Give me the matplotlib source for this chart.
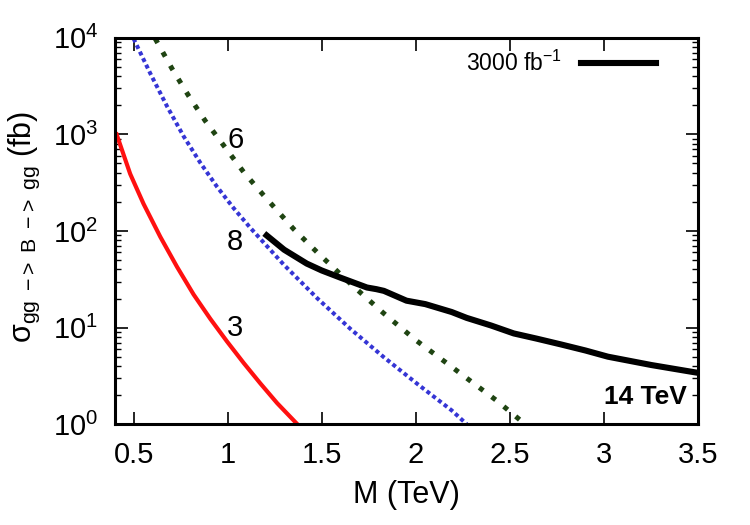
import numpy as np
import matplotlib
matplotlib.use("Agg")
import matplotlib.pyplot as plt

plt.rcParams['font.family'] = ['Liberation Sans', 'DejaVu Sans']
plt.rcParams['mathtext.fontset'] = 'custom'
plt.rcParams['mathtext.rm'] = 'Liberation Sans'
plt.rcParams['mathtext.it'] = 'Liberation Sans:italic'

# red, label 3
m3 = [0.41, 0.482, 0.553, 0.642, 0.731, 0.819, 0.908, 0.996, 1.085, 1.173, 1.263, 1.37]
s3 = [1000, 390, 191, 87, 42.5, 22, 12.3, 7.2, 4.3, 2.65, 1.65, 1.0]

# blue dotted, label 8
m8 = [0.5, 0.589, 0.678, 0.766, 0.855, 0.944, 1.032, 1.12, 1.298, 1.476, 1.652, 1.83, 2.01, 2.19, 2.27]
s8 = [9800, 4270, 1950, 955, 507, 286, 172, 108, 44.8, 20.1, 9.7, 4.93, 2.59, 1.39, 1.0]

# green dashed, label 6
m6 = [0.615, 0.704, 0.793, 0.881, 0.979, 1.085, 1.191, 1.35, 1.476, 1.652, 1.83, 2.0, 2.17, 2.29, 2.43, 2.58]
s6 = [9800, 4800, 2500, 1380, 767, 407, 234, 105, 60, 28.5, 14.0, 7.4, 4.2, 2.8, 1.75, 1.0]

# 3000 fb^-1 limit
m_lim = [1.207, 1.3, 1.42, 1.5, 1.597, 1.74, 1.79, 1.83, 1.95, 2.05, 2.19, 2.27, 2.4, 2.52, 2.64, 2.77, 2.9, 3.02, 3.25, 3.46, 3.5]
s_lim = [90, 64, 46, 39, 33, 26, 25, 24, 19, 17.5, 14.5, 12.6, 10.5, 8.7, 7.7, 6.7, 5.8, 5.0, 4.1, 3.5, 3.4]

fig = plt.figure(figsize=(7.5, 5.25), dpi=100)
ax = fig.add_axes([0.153, 0.192, 0.778, 0.736])

ax.plot(m3, s3, color='#ff1010', lw=3)
ax.plot(m8, s8, color='#3535d5', lw=2.9, ls=(0, (1, 0.8)))
ax.plot(m6, s6, color='#1f4412', lw=3.6, ls=(0, (1, 2.1)))
ax.plot(m_lim, s_lim, color='black', lw=4.4, label=r'3000 fb$^{\mathregular{-1}}$')

ax.text(1.04, 870, '6', fontsize=21, ha='center', va='center')
ax.text(1.04, 77, '8', fontsize=21, ha='center', va='center')
ax.text(1.04, 9.8, '3', fontsize=21, ha='center', va='center')
ax.text(3.44, 1.9, '14 TeV', fontsize=19, fontweight='bold', ha='right', va='center')

ax.set_yscale('log')
ax.set_xlim(0.4, 3.5)
ax.set_ylim(1, 1e4)
ax.set_xticks([0.5, 1, 1.5, 2, 2.5, 3, 3.5])
ax.set_xticklabels(['0.5', '1', '1.5', '2', '2.5', '3', '3.5'])
ax.set_xlabel('M (TeV)', fontsize=22, labelpad=8)
ax.set_ylabel(r'$\mathregular{\sigma_{gg\ -\!>\ B\ -\!>\ gg}}$ (fb)', fontsize=22)
ax.yaxis.set_label_coords(-0.125, 0.51)

ax.tick_params(which='both', direction='in', top=True, right=True, labelsize=21)
ax.tick_params(which='major', length=9, width=1.2, pad=12)
ax.tick_params(which='minor', length=4.5, width=1.0)
for s in ax.spines.values():
    s.set_linewidth(2.2)

ax.legend(loc='upper right', bbox_to_anchor=(0.94, 0.985), frameon=False, markerfirst=False,
          fontsize=16.5, handlelength=3.3, handletextpad=0.8, borderaxespad=0, borderpad=0.3)

fig.savefig('out.png', dpi=100)
